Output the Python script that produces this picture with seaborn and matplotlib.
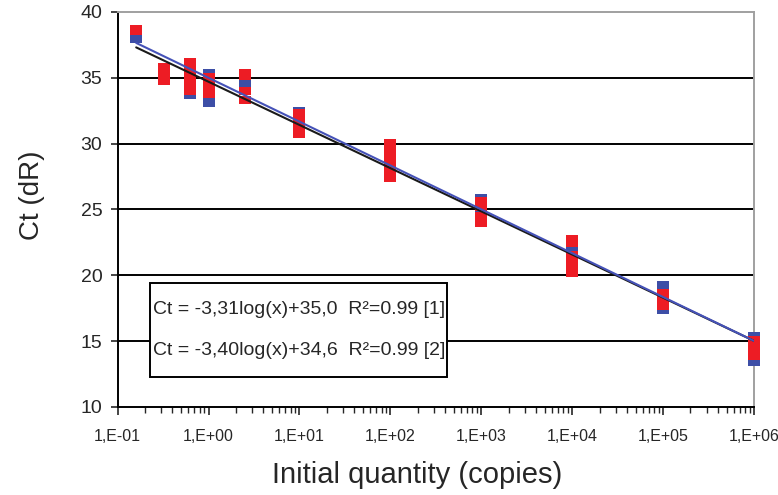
import matplotlib
matplotlib.use('Agg')
import matplotlib.pyplot as plt
import matplotlib.ticker as mticker
from matplotlib.patches import Rectangle
import numpy as np
import pandas as pd
import seaborn as sns

# initial quantity (copies) for each dilution
quantity = [0.16, 0.32, 0.63, 1, 2.5, 10, 100, 1e3, 1e4, 1e5, 1e6]

# Ct replicates, series [1] (blue)
ct_1 = [
    [37.95],
    [35.3],
    [35.2, 33.67],
    [35.35, 33.32, 33.07],
    [34.56],
    [32.46, 31.5],
    [29.0, 28.2],
    [25.85, 24.6],
    [22.08, 21.3],
    [19.27, 17.35],
    [15.42, 13.42],
]

# Ct replicates, series [2] (red)
ct_2 = [
    [38.71, 38.56],
    [35.80, 35.29, 34.76],
    [36.18, 35.67, 35.14, 34.61, 34.02],
    [35.09, 34.68, 34.23, 33.80],
    [35.35, 35.14, 33.98, 33.32],
    [32.31, 31.80, 31.27, 30.71],
    [30.05, 29.52, 28.99, 28.46, 27.92, 27.42],
    [25.67, 25.16, 24.51, 23.96],
    [22.76, 22.48, 21.55, 21.02, 20.56, 20.2],
    [18.64, 18.13, 17.68],
    [15.09, 14.48, 13.88],
]

# regression lines as drawn (slope, intercept)
fit_1 = (-3.33, 35.0)
fit_2 = (-3.28, 34.7)

eq_labels = ["Ct = -3,31log(x)+35,0  R²=0.99 [1]",
             "Ct = -3,40log(x)+34,6  R²=0.99 [2]"]

rows = []
for q, reps in zip(quantity, ct_1):
    for v in reps:
        rows.append({'q': q, 'ct': v, 'run': '1'})
for q, reps in zip(quantity, ct_2):
    for v in reps:
        rows.append({'q': q, 'ct': v, 'run': '2'})
df = pd.DataFrame(rows)

sns.set_style('white')
plt.rcParams['font.family'] = ['Liberation Sans', 'DejaVu Sans']

fig = plt.figure(figsize=(7.78, 4.95), dpi=100)
ax = fig.add_axes([0.1512, 0.1778, 0.818, 0.798])

rect_marker = [(-1, -0.7), (1, -0.7), (1, 0.7), (-1, 0.7), (-1, -0.7)]
blue = '#3d4ea6'
red = '#ed1c24'

sns.scatterplot(data=df[df.run == '1'], x='q', y='ct', marker=rect_marker,
                s=66, color=blue, linewidth=0, ax=ax, zorder=3, clip_on=False)
sns.scatterplot(data=df[df.run == '2'], x='q', y='ct', marker=rect_marker,
                s=66, color=red, linewidth=0, ax=ax, zorder=4, clip_on=False)

xs = np.array([quantity[0], quantity[-1]])
line_df = pd.DataFrame({
    'q': np.concatenate([xs, xs]),
    'ct': np.concatenate([fit_2[0] * np.log10(xs) + fit_2[1],
                          fit_1[0] * np.log10(xs) + fit_1[1]]),
    'fit': ['2', '2', '1', '1'],
})
sns.lineplot(data=line_df, x='q', y='ct', hue='fit',
             palette={'1': '#4552b8', '2': '#1a1a1a'}, linewidth=1.5,
             legend=False, ax=ax, zorder=5)

ax.set_xscale('log')
ax.set_xlim(0.1, 1e6)
ax.set_ylim(10, 40)
ax.set_yticks(range(10, 41, 5))
ax.xaxis.set_major_locator(mticker.LogLocator(base=10, numticks=20))
ax.xaxis.set_minor_locator(mticker.LogLocator(base=10, subs=np.arange(2, 10), numticks=20))
ax.xaxis.set_major_formatter(mticker.FuncFormatter(
    lambda v, p: '1,E%+03d' % int(round(np.log10(v)))))
ax.xaxis.set_minor_formatter(mticker.NullFormatter())

ax.yaxis.grid(True, color='black', linewidth=1.4)
ax.set_axisbelow(True)
for gl in ax.get_ygridlines():
    if gl.get_ydata()[0] in (10, 40):
        gl.set_visible(False)

for side in ['left', 'bottom']:
    ax.spines[side].set_color('black')
    ax.spines[side].set_linewidth(1.4)
for side in ['top', 'right']:
    ax.spines[side].set_visible(True)
    ax.spines[side].set_color('#a0a0a0')
    ax.spines[side].set_linewidth(1.4)

ax.tick_params(axis='x', which='major', direction='out', length=6, width=1.2,
               bottom=True, labelsize=11.5, pad=10)
ax.tick_params(axis='x', which='minor', direction='out', length=4, width=1.0, bottom=True)
ax.tick_params(axis='y', direction='out', length=5, width=1.2, left=True,
               labelsize=14, pad=6)

ax.set_xlabel('Initial quantity (copies)', fontsize=21)
ax.set_ylabel('Ct (dR)', fontsize=20)
ax.xaxis.set_label_coords(0.47, -0.172)
ax.yaxis.set_label_coords(-0.1345, 0.537)
ax.xaxis.label.set_va('center')
ax.yaxis.label.set_va('center')

ax.add_patch(Rectangle((0.051, 0.077), 0.467, 0.236, transform=ax.transAxes,
                       facecolor='white', edgecolor='black', linewidth=1.4, zorder=6))
ax.text(0.0556, 0.248, eq_labels[0], transform=ax.transAxes, fontsize=14,
        va='center', ha='left', zorder=7)
ax.text(0.0556, 0.144, eq_labels[1], transform=ax.transAxes, fontsize=14,
        va='center', ha='left', zorder=7)

fig.savefig('out.png', dpi=100)
